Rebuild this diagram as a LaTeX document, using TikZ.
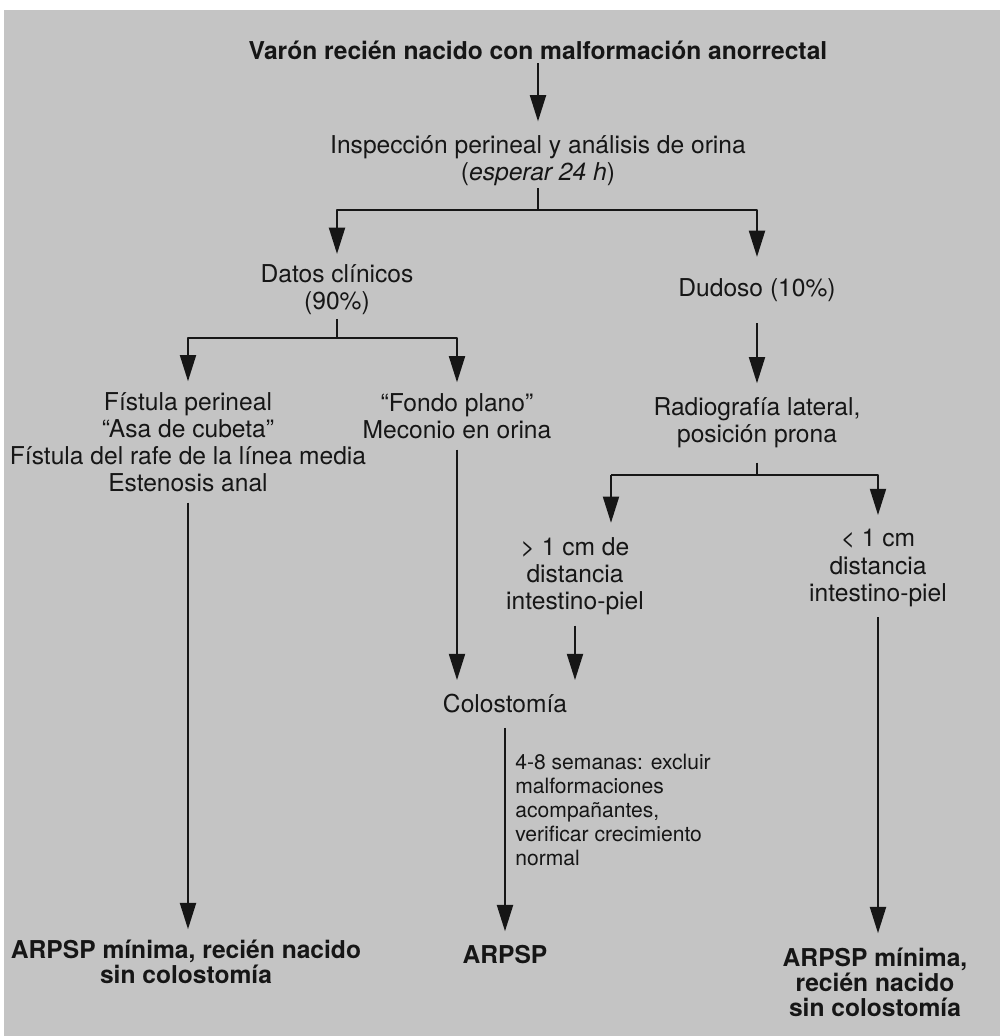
\documentclass[tikz,border=0pt]{standalone}
\usepackage{fontspec}
\setmainfont{TeX Gyre Heros}
\usetikzlibrary{arrows.meta}
\definecolor{gris}{RGB}{196,196,196}
\definecolor{tinta}{RGB}{22,22,22}
\tikzset{
	caja/.style={inner sep=0pt,align=center,text=tinta,font={\fontsize{14}{15.4}\selectfont}},
	negrita/.style={inner sep=0pt,align=center,text=tinta,font={\fontsize{14}{14.2}\selectfont\bfseries}},
	nota/.style={inner sep=0pt,align=left,text=tinta,font={\fontsize{12}{13.7}\selectfont}},
	linea/.style={line width=1.5pt,draw=tinta},
	flecha/.style={linea,-{Triangle[length=15pt,width=9pt]}}
}
\begin{document}
\begin{tikzpicture}[x=0.02cm,y=-0.02cm,line join=round]
	\useasboundingbox (0,0) rectangle (1000,1036) ;
	\fill[gris] (4,10) rectangle (1000,1036) ;
	\node[negrita] (titulo) at (538,50) {Varón recién nacido con malformación anorrectal} ;
	\node[caja] (inspeccion) at (538,161) {Inspección perineal y análisis de orina\\(\textit{esperar 24 h})} ;
	\node[caja] (datos) at (337,290) {Datos clínicos\\(90\%)} ;
	\node[caja] (dudoso) at (757,290) {Dudoso (10\%)} ;
	\node[caja] (fistula) at (188,442) {Fístula perineal\\“Asa de cubeta”\\Fístula del rafe de la línea media\\Estenosis anal} ;
	\node[caja] (plano) at (457,416) {“Fondo plano”\\Meconio en orina} ;
	\node[caja] (radio) at (757,423) {Radiografía lateral,\\posición prona} ;
	\node[caja] (mayor) at (575,576) {> 1 cm de\\distancia\\intestino-piel} ;
	\node[caja] (menor) at (878,568) {< 1 cm\\distancia\\intestino-piel} ;
	\node[caja] (colostomia) at (505,704) {Colostomía} ;
	\node[nota,anchor=west] (semanas) at (515,810) {4-8 semanas: excluir\\malformaciones\\acompañantes,\\verificar crecimiento\\normal} ;
	\node[negrita] (minima1) at (186,962) {ARPSP mínima, recién nacido\\sin colostomía} ;
	\node[negrita] (arpsp) at (505,955) {ARPSP} ;
	\node[negrita] (minima2) at (875,982) {ARPSP mínima,\\recién nacido\\sin colostomía} ;
	\coordinate (r1) at (538,210) ; \coordinate (r2) at (337,338) ;
	\coordinate (r3) at (757,475) ; \coordinate (b1) at (611,475) ;
	\draw[flecha,shorten <=2pt,shorten >=8pt] (titulo) -- (inspeccion) ;
	\draw[linea,shorten <=1pt] (inspeccion) -- (r1) ;
	\draw[flecha,shorten >=6pt] (r1) -| (datos) ;
	\draw[flecha,shorten >=12pt] (r1) -| (dudoso) ;
	\draw[linea,shorten <=2pt] (datos) -- (r2) ;
	\draw[flecha,shorten >=6pt] (r2) -| (fistula) ;
	\draw[flecha,shorten >=6pt] (r2) -| (plano) ;
	\draw[flecha,shorten <=12pt,shorten >=8pt] (dudoso) -- (radio) ;
	\draw[linea,shorten <=8pt] (radio) -- (r3) ;
	\draw[linea] (b1) -- (r3) ;
	\draw[flecha,shorten >=8pt] (b1) -- (b1 |- mayor.north) ;
	\draw[flecha,shorten >=8pt] (r3) -| (menor) ;
	\draw[flecha,shorten <=6pt,shorten >=6pt] (fistula) -- (fistula |- minima1.north) ;
	\draw[flecha,shorten <=6pt,shorten >=8pt] (plano) -- (plano |- colostomia.north) ;
	\draw[flecha,shorten <=6pt,shorten >=8pt] (mayor) -- (mayor |- colostomia.north) ;
	\draw[flecha,shorten <=6pt,shorten >=8pt] (menor) -- (menor |- minima2.north) ;
	\draw[flecha,shorten <=8pt,shorten >=8pt] (colostomia) -- (arpsp) ;
\end{tikzpicture}
\end{document}
